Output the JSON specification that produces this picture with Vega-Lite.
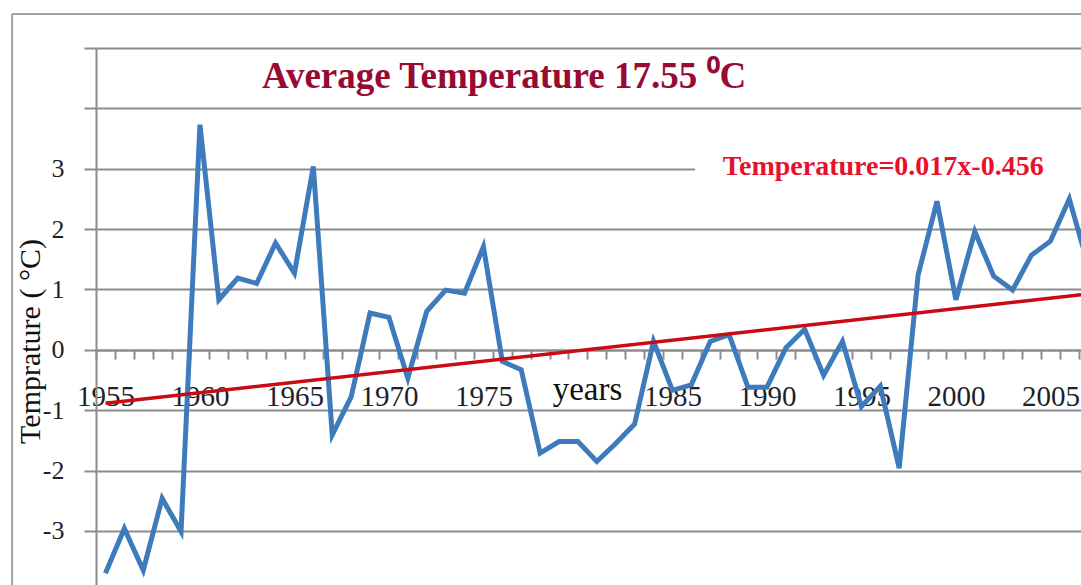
{
  "$schema": "https://vega.github.io/schema/vega-lite/v6.json",
  "width": 985,
  "height": 537,
  "autosize": {"type": "none"},
  "padding": {"left": 96, "top": 48, "right": 0, "bottom": 0},
  "background": "white",
  "view": {"stroke": null},
  "data": {"values": [{}]},
  "datasets": {
    "temp": [
      {"year": 1955, "anomaly": -3.70}, {"year": 1956, "anomaly": -2.96}, {"year": 1957, "anomaly": -3.65},
      {"year": 1958, "anomaly": -2.46}, {"year": 1959, "anomaly": -3.01}, {"year": 1960, "anomaly": 3.73},
      {"year": 1961, "anomaly": 0.83}, {"year": 1962, "anomaly": 1.19}, {"year": 1963, "anomaly": 1.10},
      {"year": 1964, "anomaly": 1.77}, {"year": 1965, "anomaly": 1.27}, {"year": 1966, "anomaly": 3.04},
      {"year": 1967, "anomaly": -1.41}, {"year": 1968, "anomaly": -0.78}, {"year": 1969, "anomaly": 0.61},
      {"year": 1970, "anomaly": 0.54}, {"year": 1971, "anomaly": -0.47}, {"year": 1972, "anomaly": 0.64},
      {"year": 1973, "anomaly": 0.99}, {"year": 1974, "anomaly": 0.94}, {"year": 1975, "anomaly": 1.71},
      {"year": 1976, "anomaly": -0.19}, {"year": 1977, "anomaly": -0.33}, {"year": 1978, "anomaly": -1.71},
      {"year": 1979, "anomaly": -1.52}, {"year": 1980, "anomaly": -1.52}, {"year": 1981, "anomaly": -1.85},
      {"year": 1982, "anomaly": -1.55}, {"year": 1983, "anomaly": -1.23}, {"year": 1984, "anomaly": 0.14},
      {"year": 1985, "anomaly": -0.67}, {"year": 1986, "anomaly": -0.58}, {"year": 1987, "anomaly": 0.14},
      {"year": 1988, "anomaly": 0.25}, {"year": 1989, "anomaly": -0.62}, {"year": 1990, "anomaly": -0.62},
      {"year": 1991, "anomaly": 0.03}, {"year": 1992, "anomaly": 0.34}, {"year": 1993, "anomaly": -0.42},
      {"year": 1994, "anomaly": 0.14}, {"year": 1995, "anomaly": -0.94}, {"year": 1996, "anomaly": -0.60},
      {"year": 1997, "anomaly": -1.96}, {"year": 1998, "anomaly": 1.24}, {"year": 1999, "anomaly": 2.46},
      {"year": 2000, "anomaly": 0.83}, {"year": 2001, "anomaly": 1.96}, {"year": 2002, "anomaly": 1.22},
      {"year": 2003, "anomaly": 0.99}, {"year": 2004, "anomaly": 1.57}, {"year": 2005, "anomaly": 1.80},
      {"year": 2006, "anomaly": 2.50}, {"year": 2007, "anomaly": 1.40}
    ],
    "trend": [
      {"year": 1955, "anomaly": -0.885},
      {"year": 2007, "anomaly": 0.925}
    ]
  },
  "layer": [
    {
      "data": {"name": "temp"},
      "mark": {"type": "line", "color": "#3d7bbd", "strokeWidth": 5, "clip": true},
      "encoding": {
        "x": {
          "field": "year",
          "type": "quantitative",
          "scale": {"domain": [1954.5, 2006.62], "nice": false, "zero": false},
          "axis": {
            "orient": "bottom",
            "offset": -235,
            "tickCount": 200,
            "values": [1954.5,1955.5,1956.5,1957.5,1958.5,1959.5,1960.5,1961.5,1962.5,1963.5,1964.5,1965.5,1966.5,1967.5,1968.5,1969.5,1970.5,1971.5,1972.5,1973.5,1974.5,1975.5,1976.5,1977.5,1978.5,1979.5,1980.5,1981.5,1982.5,1983.5,1984.5,1985.5,1986.5,1987.5,1988.5,1989.5,1990.5,1991.5,1992.5,1993.5,1994.5,1995.5,1996.5,1997.5,1998.5,1999.5,2000.5,2001.5,2002.5,2003.5,2004.5,2005.5,2006.5],
            "labelExpr": "((datum.value + 0.5) % 5 == 0 && datum.value + 0.5 != 1980) ? '' + (datum.value + 0.5) : ''",
            "labelOffset": 9.45,
            "labelOverlap": false,
            "labelFlush": false,
            "labelBound": false,
            "labelFontSize": 29,
            "labelPadding": 23,
            "tickSize": 9,
            "grid": false,
            "title": "years",
            "titleFontSize": 33,
            "titleX": 491,
            "titleY": 49,
            "titleAlign": "center",
            "titleBaseline": "alphabetic"
          }
        },
        "y": {
          "field": "anomaly",
          "type": "quantitative",
          "scale": {"domain": [-3.895, 5], "nice": false, "zero": false},
          "axis": {
            "values": [-3, -2, -1, 0, 1, 2, 3, 4, 5],
            "tickCount": 50,
            "labelExpr": "datum.value <= 3 ? '' + datum.value : ''",
            "labelFontSize": 26,
            "labelPadding": 20,
            "tickSize": 12,
            "grid": true,
            "title": "Temprature ( °C)",
            "titleFontSize": 30,
            "titleAngle": -90,
            "titleX": -66,
            "titleY": 293,
            "titleAlign": "center",
            "titleBaseline": "middle"
          }
        }
      }
    },
    {
      "mark": {"type": "rect", "fill": "white", "clip": true},
      "encoding": {
        "x": {"datum": 1986.2, "type": "quantitative"},
        "x2": {"datum": 2010},
        "y": {"datum": 2.78, "type": "quantitative"},
        "y2": {"datum": 3.25}
      }
    },
    {
      "mark": {"type": "text", "text": "Temperature=0.017x-0.456", "align": "left", "baseline": "middle", "font": "Liberation Serif", "fontSize": 28, "fontWeight": "bold", "color": "#e8112d"},
      "encoding": {
        "x": {"datum": 1987.67, "type": "quantitative"},
        "y": {"datum": 3.03, "type": "quantitative"}
      }
    },
    {
      "mark": {"type": "text", "text": "Average Temperature 17.55 ⁰C", "align": "left", "baseline": "alphabetic", "font": "Liberation Serif", "fontSize": 37, "fontWeight": "bold", "color": "#970a32"},
      "encoding": {
        "x": {"datum": 1963.28, "type": "quantitative"},
        "y": {"datum": 4.34, "type": "quantitative"}
      }
    },
    {
      "data": {"name": "trend"},
      "mark": {"type": "line", "color": "#cc0a14", "strokeWidth": 3.5, "clip": true},
      "encoding": {
        "x": {"field": "year", "type": "quantitative"},
        "y": {"field": "anomaly", "type": "quantitative"}
      }
    },
    {
      "mark": {"type": "rule", "color": "#a0a0a0", "strokeWidth": 2, "clip": false},
      "encoding": {
        "x": {"datum": 1950.06, "type": "quantitative"},
        "y": {"datum": -3.895, "type": "quantitative"},
        "y2": {"datum": 5.564}
      }
    },
    {
      "mark": {"type": "rule", "color": "#a0a0a0", "strokeWidth": 2, "clip": false},
      "encoding": {
        "x": {"datum": 1950.06, "type": "quantitative"},
        "x2": {"datum": 2010},
        "y": {"datum": 5.564, "type": "quantitative"}
      }
    }
  ],
  "config": {
    "font": "Liberation Serif",
    "axis": {
      "gridColor": "#8c8c8c",
      "gridWidth": 2,
      "gridOpacity": 1,
      "domainColor": "#8c8c8c",
      "domainWidth": 2,
      "tickColor": "#8c8c8c",
      "tickWidth": 2,
      "labelColor": "#1f1f2a",
      "labelFont": "Liberation Serif",
      "titleFont": "Liberation Serif",
      "titleFontWeight": "normal",
      "titleColor": "#111111"
    }
  }
}
